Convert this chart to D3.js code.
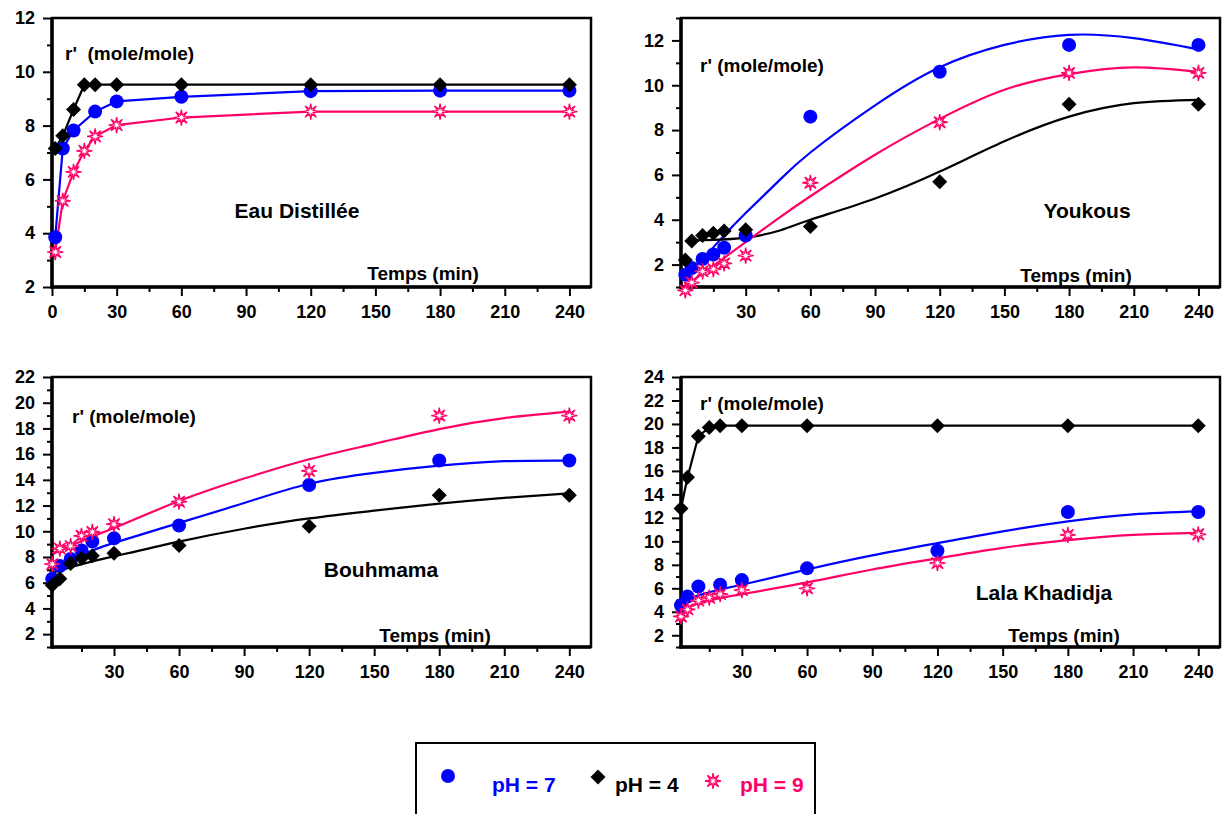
<!DOCTYPE html>
<html>
<head>
<meta charset="utf-8">
<script src="https://cdn.jsdelivr.net/npm/d3@7"></script>
<style>
  body { margin: 0; background: #fff; }
  svg text { font-family: "Liberation Sans", Arial, sans-serif; font-weight: bold; }
</style>
</head>
<body>
<div id="chart"></div>
<script>
/* DATA */
const blue = "#0000ff", black = "#000000", pink = "#ff0066";

// Eau Distillee (points joined by straight lines)
const eauT = [1.5, 5, 10, 15, 20, 30, 60, 120, 180, 240];
const eauBlueT = [1.5, 5, 10, 20, 30, 60, 120, 180, 240];
const eauPH7 = [3.85, 7.15, 7.82, 8.52, 8.9, 9.07, 9.28, 9.3, 9.3];
const eauPH4 = [7.15, 7.62, 8.6, 9.52, 9.52, 9.52, 9.52, 9.52, 9.52, 9.52];
const eauPH9 = [3.3, 5.2, 6.28, 7.06, 7.6, 8.02, 8.3, 8.52, 8.52, 8.52];

// Youkous (points + fitted curves)
const youT = [2, 5, 10, 15, 20, 30, 60, 120, 180, 240];
const youPH7 = [1.55, 1.85, 2.25, 2.45, 2.75, 3.3, 8.6, 10.6, 11.8, 11.8];
const youPH4 = [2.2, 3.05, 3.3, 3.4, 3.5, 3.55, 3.7, 5.7, 9.15, 9.15];
const youPH9 = [0.85, 1.2, 1.7, 1.8, 2.05, 2.4, 5.65, 8.35, 10.55, 10.55];
const youFitT7 = [1, 10, 20, 30, 45, 60, 90, 120, 150, 180, 210, 240];
const youFit7 = [1.4, 2.25, 3.3, 4.3, 5.7, 7.0, 9.1, 10.8, 11.8, 12.25, 12.1, 11.6];
const youFitT9 = [1.5, 10, 20, 30, 45, 60, 90, 120, 150, 180, 210, 240];
const youFit9 = [1.0, 1.6, 2.3, 3.0, 4.05, 5.05, 6.9, 8.5, 9.8, 10.5, 10.8, 10.6];
const youFitT4 = [5, 15, 30, 45, 60, 90, 120, 150, 180, 210, 240];
const youFit4 = [3.08, 3.1, 3.2, 3.5, 4.0, 4.95, 6.15, 7.5, 8.6, 9.2, 9.35];

// Bouhmama (points + fitted curves)
const bouT = [1.5, 5, 10, 15, 20, 30, 60, 120, 180, 240];
const bouPH7 = [6.3, 7.3, 7.85, 8.5, 9.2, 9.45, 10.45, 13.6, 15.5, 15.5];
const bouPH4 = [5.8, 6.3, 7.5, 7.9, 8.1, 8.3, 8.9, 10.4, 12.8, 12.8];
const bouPH9 = [7.45, 8.65, 8.85, 9.65, 9.95, 10.55, 12.3, 14.7, 19.0, 19.0];
const bouFitT = [1.5, 10, 20, 30, 60, 90, 120, 150, 180, 210, 240];
const bouFit7 = [7.2, 7.8, 8.5, 9.1, 10.65, 12.2, 13.7, 14.55, 15.1, 15.45, 15.5];
const bouFit4 = [6.75, 7.2, 7.66, 8.05, 9.2, 10.2, 11.0, 11.6, 12.15, 12.6, 12.95];
const bouFit9 = [8.3, 8.85, 9.6, 10.25, 12.35, 14.1, 15.6, 16.8, 17.95, 18.8, 19.3];

// Lala Khadidja (pH 4 joined, pH 7 / 9 fitted)
const lalaT = [2, 5, 10, 15, 20, 30, 60, 120, 180, 240];
const lalaBlueT = [2, 5, 10, 20, 30, 60, 120, 180, 240];
const lalaPH7 = [4.55, 5.3, 6.15, 6.3, 6.7, 7.7, 9.2, 12.5, 12.5];
const lalaPH4 = [12.8, 15.45, 18.95, 19.7, 19.85, 19.85, 19.85, 19.85, 19.85, 19.85];
const lalaPH9 = [3.6, 4.2, 4.95, 5.2, 5.5, 5.85, 6.0, 8.15, 10.55, 10.6];
const lalaFitT = [2, 5, 10, 20, 30, 60, 90, 120, 150, 180, 210, 240];
const lalaFit7 = [4.6, 5.0, 5.4, 5.9, 6.3, 7.6, 8.8, 9.85, 10.85, 11.7, 12.3, 12.55];
const lalaFit9 = [3.9, 4.3, 4.7, 5.15, 5.5, 6.5, 7.6, 8.55, 9.45, 10.1, 10.55, 10.72];

const xTicksAll = [0, 30, 60, 90, 120, 150, 180, 210, 240];
const xTicksNoZero = [30, 60, 90, 120, 150, 180, 210, 240];
const legendLabels = ["pH = 7", "pH = 4", "pH = 9"];

const zip = (t, v) => t.map((d, i) => [d, v[i]]);

/* PANELS (layout) */
const panels = [
  { title: "Eau Distillée", ylab: "r'  (mole/mole)", xd: [0, 250], yd: [2, 12], left: 52, right: 591, top: 18, bottom: 287,
    xt: xTicksAll, titleX: 297, titleY: 218, ylabX: 65, ylabY: 60, tempsX: 423, tempsY: 280,
    series: [
      { pts: zip(eauBlueT, eauPH7), line: zip(eauBlueT, eauPH7), sym: "circle", color: blue, straight: true },
      { pts: zip(eauT, eauPH4), line: zip(eauT, eauPH4), sym: "diamond", color: black, straight: true },
      { pts: zip(eauT, eauPH9), line: zip(eauT, eauPH9), sym: "star", color: pink, straight: true }
    ] },
  { title: "Youkous", ylab: "r' (mole/mole)", xd: [0, 250], yd: [1, 13], left: 681, right: 1220, top: 18, bottom: 287,
    xt: xTicksNoZero, titleX: 1087, titleY: 218, ylabX: 700, ylabY: 72, tempsX: 1076, tempsY: 282,
    series: [
      { pts: zip(youT, youPH7), line: zip(youFitT7, youFit7), sym: "circle", color: blue },
      { pts: zip(youT, youPH4), line: zip(youFitT4, youFit4), sym: "diamond", color: black },
      { pts: zip(youT, youPH9), line: zip(youFitT9, youFit9), sym: "star", color: pink }
    ] },
  { title: "Bouhmama", ylab: "r' (mole/mole)", xd: [1.4, 250], yd: [1, 22], left: 52, right: 591, top: 377, bottom: 647,
    xt: xTicksNoZero, titleX: 381, titleY: 577, ylabX: 72, ylabY: 423, tempsX: 435, tempsY: 642,
    series: [
      { pts: zip(bouT, bouPH7), line: zip(bouFitT, bouFit7), sym: "circle", color: blue },
      { pts: zip(bouT, bouPH4), line: zip(bouFitT, bouFit4), sym: "diamond", color: black },
      { pts: zip(bouT, bouPH9), line: zip(bouFitT, bouFit9), sym: "star", color: pink }
    ] },
  { title: "Lala Khadidja", ylab: "r' (mole/mole)", xd: [2, 250], yd: [1, 24], left: 681, right: 1220, top: 377, bottom: 647,
    xt: xTicksNoZero, titleX: 1044, titleY: 600, ylabX: 700, ylabY: 410, tempsX: 1064, tempsY: 642,
    series: [
      { pts: zip(lalaBlueT, lalaPH7), line: zip(lalaFitT, lalaFit7), sym: "circle", color: blue },
      { pts: zip(lalaT, lalaPH4), line: zip(lalaT, lalaPH4), sym: "diamond", color: black, straight: true },
      { pts: zip(lalaT, lalaPH9), line: zip(lalaFitT, lalaFit9), sym: "star", color: pink }
    ] }
];

const svg = d3.select("#chart").append("svg")
  .attr("width", 1224)
  .attr("height", 814);

function starPath(ro, ri, n) {
  const p = d3.path();
  for (let i = 0; i < n * 2; i++) {
    const r = i % 2 ? ri : ro;
    const a = Math.PI * i / n - Math.PI / 2;
    if (i === 0) p.moveTo(r * Math.cos(a), r * Math.sin(a));
    else p.lineTo(r * Math.cos(a), r * Math.sin(a));
  }
  p.closePath();
  return p.toString();
}

function drawSymbol(g, sym, color, x, y) {
  if (sym === "circle") {
    g.append("circle").attr("cx", x).attr("cy", y).attr("r", 7).attr("fill", color);
  } else if (sym === "diamond") {
    g.append("path").attr("transform", `translate(${x},${y})`)
      .attr("d", "M0,-7.5L7.5,0L0,7.5L-7.5,0Z").attr("fill", color);
  } else {
    g.append("path").attr("transform", `translate(${x},${y})`)
      .attr("d", starPath(8, 2.6, 8)).attr("fill", "#fff")
      .attr("stroke", color).attr("stroke-width", 1.3);
  }
}

panels.forEach(p => {
  const g = svg.append("g");
  const x = d3.scaleLinear().domain(p.xd).range([p.left, p.right]);
  const y = d3.scaleLinear().domain(p.yd).range([p.bottom, p.top]);

  // frame
  g.append("rect")
    .attr("x", p.left).attr("y", p.top)
    .attr("width", p.right - p.left).attr("height", p.bottom - p.top)
    .attr("fill", "none").attr("stroke", "#000").attr("stroke-width", 2.5);

  // y axis
  const yMajor = d3.range(Math.ceil(p.yd[0] / 2) * 2, p.yd[1] + 0.01, 2);
  const yMinor = d3.range(Math.ceil(p.yd[0]), p.yd[1] + 0.01, 1).filter(v => v % 2 !== 0);
  g.append("g").attr("transform", `translate(${p.left},0)`)
    .call(d3.axisLeft(y).tickValues(yMinor).tickSize(5).tickFormat(""))
    .call(a => a.select(".domain").remove());
  g.append("g").attr("transform", `translate(${p.left},0)`)
    .call(d3.axisLeft(y).tickValues(yMajor).tickSize(9).tickPadding(8).tickFormat(d3.format("d")))
    .call(a => a.select(".domain").remove())
    .call(a => a.selectAll("text").attr("font-size", 18).attr("fill", "#000"));

  // x axis
  const xMinor = d3.range(15, 250, 30).filter(v => v >= p.xd[0]);
  g.append("g").attr("transform", `translate(0,${p.bottom})`)
    .call(d3.axisBottom(x).tickValues(xMinor).tickSize(5).tickFormat(""))
    .call(a => a.select(".domain").remove());
  g.append("g").attr("transform", `translate(0,${p.bottom})`)
    .call(d3.axisBottom(x).tickValues(p.xt).tickSize(9).tickPadding(9).tickFormat(d3.format("d")))
    .call(a => a.select(".domain").remove())
    .call(a => a.selectAll("text").attr("font-size", 18).attr("fill", "#000"));
  g.selectAll(".tick line").attr("stroke", "#000").attr("stroke-width", 2);

  // thick axis lines
  g.append("line").attr("x1", p.left).attr("x2", p.left).attr("y1", p.top).attr("y2", p.bottom + 1.5)
    .attr("stroke", "#000").attr("stroke-width", 3.5);
  g.append("line").attr("x1", p.left - 1.5).attr("x2", p.right).attr("y1", p.bottom).attr("y2", p.bottom)
    .attr("stroke", "#000").attr("stroke-width", 3.5);

  // lines
  p.series.forEach(s => {
    const line = d3.line().x(d => x(d[0])).y(d => y(d[1]))
      .curve(s.straight ? d3.curveLinear : d3.curveNatural);
    g.append("path").attr("d", line(s.line)).attr("fill", "none")
      .attr("stroke", s.color).attr("stroke-width", 2.2);
  });
  // markers
  p.series.forEach(s => {
    s.pts.forEach(d => drawSymbol(g, s.sym, s.color, x(d[0]), y(d[1])));
  });

  // texts
  g.append("text").attr("x", p.ylabX).attr("y", p.ylabY).attr("font-size", 19)
    .style("white-space", "pre").attr("xml:space", "preserve").text(p.ylab);
  g.append("text").attr("x", p.titleX).attr("y", p.titleY).attr("font-size", 21)
    .attr("text-anchor", "middle").text(p.title);
  g.append("text").attr("x", p.tempsX).attr("y", p.tempsY).attr("font-size", 19)
    .attr("text-anchor", "middle").text("Temps (min)");
});

// legend
const lg = svg.append("g");
lg.append("rect").attr("x", 416).attr("y", 743).attr("width", 399).attr("height", 100)
  .attr("fill", "none").attr("stroke", "#000").attr("stroke-width", 2);
const legSyms = ["circle", "diamond", "star"];
const legColors = [blue, black, pink];
const legSymX = [448, 598, 713];
const legSymY = [776, 777, 781];
const legTextX = [492, 615, 740];
legendLabels.forEach((lab, i) => {
  drawSymbol(lg, legSyms[i], legColors[i], legSymX[i], legSymY[i]);
  lg.append("text").attr("x", legTextX[i]).attr("y", 792).attr("font-size", 21)
    .attr("fill", legColors[i]).text(lab);
});
</script>
</body>
</html>
